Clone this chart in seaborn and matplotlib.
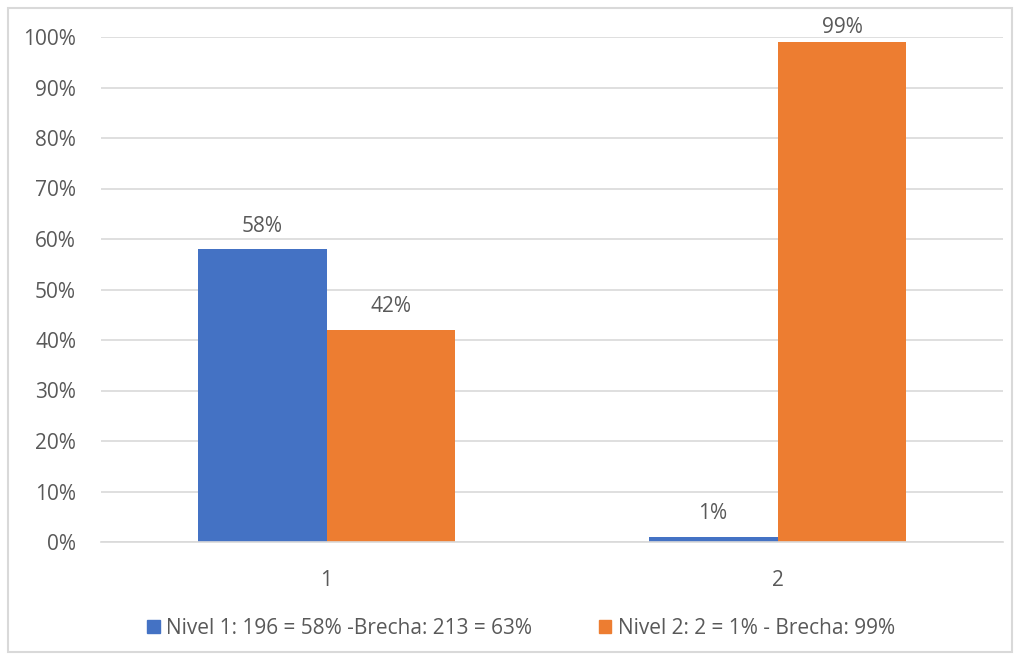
import matplotlib
matplotlib.use("Agg")
import matplotlib.pyplot as plt
import seaborn as sns
import pandas as pd
from matplotlib.patches import Rectangle

categories = ["1", "2"]
series_names = ["Nivel 1: 196 = 58% -Brecha: 213 = 63%", "Nivel 2: 2 = 1% - Brecha: 99%"]
nivel1 = [0.58, 0.01]
nivel2 = [0.42, 0.99]
yticks = [0, 0.1, 0.2, 0.3, 0.4, 0.5, 0.6, 0.7, 0.8, 0.9, 1.0]
ytick_labels = ["0%", "10%", "20%", "30%", "40%", "50%", "60%", "70%", "80%", "90%", "100%"]
colors = ["#4472C4", "#ED7D31"]

df = pd.DataFrame({
    "cat": categories * 2,
    "serie": [series_names[0]] * 2 + [series_names[1]] * 2,
    "val": nivel1 + nivel2,
})

sns.set_theme(style="white")
plt.rcParams["font.family"] = ["Open Sans", "DejaVu Sans"]
txt = "#595959"
fs = 15

fig = plt.figure(figsize=(10.19, 6.60), dpi=100)
ax = fig.add_axes([101 / 1019, 1 - 542 / 660, (1003 - 101) / 1019, (542 - 37) / 660])

sns.barplot(data=df, x="cat", y="val", hue="serie", palette=colors, width=0.572,
            gap=0, saturation=1, ax=ax, legend=True, errorbar=None, linewidth=0)

ax.set_ylim(0, 1.0)
ax.set_xlim(-0.5, 1.5)
ax.set_yticks(yticks)
ax.set_yticklabels(ytick_labels)
ax.yaxis.grid(True, color="#D9D9D9", linewidth=1.2)
ax.set_axisbelow(True)
for s in ["top", "right", "left"]:
    ax.spines[s].set_visible(False)
ax.spines["bottom"].set_color("#D9D9D9")
ax.spines["bottom"].set_linewidth(1.2)
ax.tick_params(axis="both", length=0, labelsize=fs, colors=txt)
ax.tick_params(axis="y", pad=18)
ax.tick_params(axis="x", pad=20)
ax.set_xlabel("")
ax.set_ylabel("")

for cont in ax.containers:
    texts = ax.bar_label(cont, labels=[f"{v*100:.0f}%" for v in cont.datavalues],
                         padding=9, fontsize=fs, color=txt, clip_on=False)
    for t, v in zip(texts, cont.datavalues):
        if v > 0.95:
            t.xyann = (0, 3)

ax.get_legend().remove()
handles = [Rectangle((0, 0), 1, 1, color=c) for c in colors]
fig.legend(handles, series_names, loc="center", bbox_to_anchor=(521 / 1019, 1 - 628 / 660),
           ncol=2, frameon=False, fontsize=fs, labelcolor=txt, handlelength=0.6,
           handleheight=0.6, handletextpad=0.3, columnspacing=3.2)

fig.patches.append(Rectangle((8 / 1019, 8 / 660), (1012 - 8) / 1019, (652 - 8) / 660,
                             transform=fig.transFigure, fill=False, edgecolor="#D9D9D9",
                             linewidth=1.5))

fig.savefig("out.png", dpi=100)
